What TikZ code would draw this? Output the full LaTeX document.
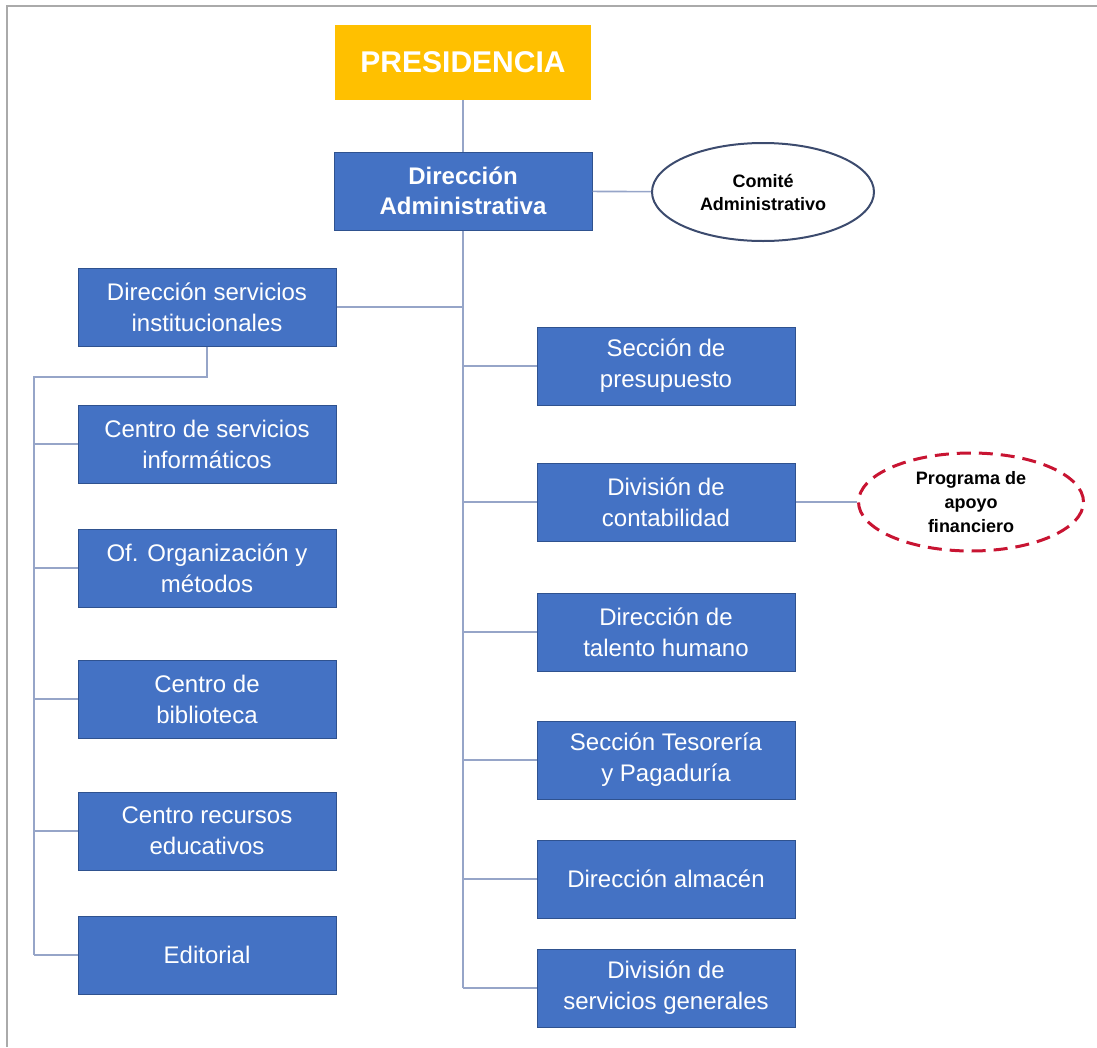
\documentclass[tikz,border=0pt]{standalone}
\usepackage{fontspec}
\setmainfont{Liberation Sans}
\usetikzlibrary{shapes.geometric, positioning, calc}
\definecolor{unitblue}{RGB}{68, 114, 196}
\definecolor{unitedge}{RGB}{47, 82, 143}
\definecolor{presgold}{RGB}{255, 192, 0}
\definecolor{linkgray}{RGB}{150, 165, 200}
\definecolor{framegray}{RGB}{170, 170, 170}
\definecolor{comiteedge}{RGB}{60, 75, 110}
\definecolor{apoyored}{RGB}{200, 20, 50}

\begin{document}
\begin{tikzpicture}[x=1pt, y=-1pt,
    unit/.style={rectangle, draw=unitedge, line width=1pt, fill=unitblue, text=white,
                 minimum width=258pt, minimum height=78pt, inner sep=2pt, align=center,
                 font=\fontsize{24}{31}\selectfont},
    pres/.style={rectangle, fill=presgold, text=white, minimum width=256pt,
                 minimum height=75pt, font=\fontsize{30}{36}\selectfont\bfseries},
    comite/.style={ellipse, draw=comiteedge, line width=2pt, fill=white, minimum width=222pt,
                   minimum height=98pt, inner sep=0pt, align=center,
                   font=\fontsize{18}{23}\selectfont\bfseries},
    apoyo/.style={ellipse, draw=apoyored, line width=3pt, dash pattern=on 14pt off 8pt,
                  fill=white, minimum width=225pt, minimum height=98pt, inner sep=0pt,
                  align=center, font=\fontsize{18}{24}\selectfont\bfseries},
    link/.style={draw=linkgray, line width=1.6pt}]
    \useasboundingbox (0,0) rectangle (1097,1047);
    \draw[framegray, line width=2pt] (7,1047) -- (7,6) -- (1097,6);

    % Top
    \node[pres] (pres) at (463, 62) {PRESIDENCIA};
    \node[unit, font=\fontsize{24}{30}\selectfont\bfseries] (dadm) at (463, 191) {Dirección\\Administrativa};
    \node[comite] (comite) at (763, 192) {Comité\\Administrativo};

    % Left branch
    \node[unit] (dserv) at (207, 307) {Dirección servicios\\institucionales};
    \node[unit] (cinfo) at (207, 444) {Centro de servicios\\informáticos};
    \node[unit] (ofom) at (207, 568) {Of. Organización y\\métodos};
    \node[unit] (cbib) at (207, 699) {Centro de\\biblioteca};
    \node[unit] (crec) at (207, 831) {Centro recursos\\educativos};
    \node[unit] (edit) at (207, 955) {Editorial};

    % Right branch
    \node[unit] (spre) at (666, 366) {Sección de\\presupuesto};
    \node[unit] (dcon) at (666, 502) {División de\\contabilidad};
    \node[unit] (dtal) at (666, 632) {Dirección de\\talento humano};
    \node[unit] (stes) at (666, 760) {Sección Tesorería\\y Pagaduría};
    \node[unit] (dalm) at (666, 879) {Dirección almacén};
    \node[unit] (dsgen) at (666, 988) {División de\\servicios generales};
    \node[apoyo] (apoyo) at (971, 502) {Programa de\\apoyo\\financiero};

    \coordinate (spine) at (463, 988);
    \coordinate (ltop) at (34, 377);
    \coordinate (lbot) at (34, 955);

    % Links
    \path[link] (pres) -- (dadm);
    \path[link] (dadm) -- (comite);
    \path[link] (dadm.south) -- (spine);
    \path[link] (dserv.east) -- (spine |- dserv.east);
    \foreach \u in {spre, dcon, dtal, stes, dalm, dsgen}
        \path[link] (spine |- \u.west) -- (\u.west);
    \path[link] (dcon) -- (apoyo);
    \path[link] (dserv.south) |- (ltop) -- (lbot);
    \foreach \u in {cinfo, ofom, cbib, crec, edit}
        \path[link] (ltop |- \u.west) -- (\u.west);
\end{tikzpicture}
\end{document}
